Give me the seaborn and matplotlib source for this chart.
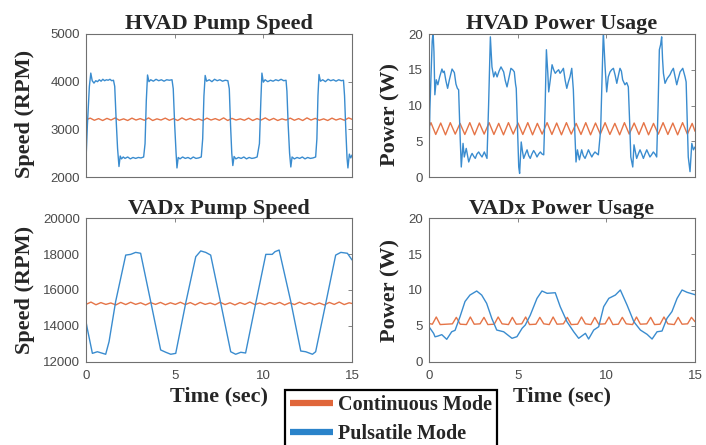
import matplotlib
matplotlib.use("Agg")
import matplotlib.pyplot as plt
from matplotlib.lines import Line2D
import seaborn as sns
import pandas as pd

# ---- data (time in sec) ----
modes = ["Continuous Mode", "Pulsatile Mode"]

# HVAD pump speed (RPM)
hvad_spd_puls_t = [
    0.00, 0.08, 0.19, 0.27, 0.35, 0.45, 0.55, 0.65, 0.75, 0.85,
    0.95, 1.05, 1.15, 1.25, 1.35, 1.45, 1.55, 1.62, 1.70, 1.78,
    1.86, 1.93, 2.00, 2.10, 2.20, 2.35, 2.50, 2.65, 2.80, 2.95,
    3.10, 3.25, 3.33, 3.40, 3.47, 3.55, 3.65, 3.80, 3.95, 4.10,
    4.25, 4.40, 4.55, 4.70, 4.85, 4.92, 5.00, 5.08, 5.13, 5.20,
    5.30, 5.45, 5.60, 5.75, 5.90, 6.05, 6.20, 6.35, 6.50, 6.58,
    6.65, 6.72, 6.80, 6.95, 7.10, 7.25, 7.40, 7.55, 7.70, 7.85,
    8.00, 8.08, 8.15, 8.22, 8.28, 8.35, 8.45, 8.60, 8.75, 8.90,
    9.05, 9.20, 9.35, 9.50, 9.65, 9.78, 9.86, 9.92, 10.00, 10.10,
    10.25, 10.40, 10.55, 10.70, 10.85, 11.00, 11.15, 11.28, 11.33, 11.40,
    11.48, 11.55, 11.62, 11.75, 11.90, 12.05, 12.20, 12.35, 12.50, 12.65,
    12.80, 12.95, 13.02, 13.08, 13.14, 13.22, 13.35, 13.50, 13.65, 13.80,
    13.95, 14.10, 14.25, 14.40, 14.52, 14.58, 14.65, 14.72, 14.77, 14.85,
    14.93, 15.00]
hvad_spd_puls_v = [
    2360, 3100, 3900, 4180, 4020, 3970, 4020, 4000, 4040, 4010,
    4050, 4020, 4040, 4030, 4050, 4020, 4030, 3900, 3200, 2600,
    2220, 2440, 2380, 2420, 2390, 2420, 2380, 2410, 2390, 2410,
    2400, 2420, 2700, 3600, 4140, 4000, 4040, 4010, 4050, 4020,
    4040, 4010, 4040, 4030, 4040, 3850, 3100, 2500, 2190, 2410,
    2380, 2420, 2390, 2410, 2380, 2420, 2390, 2400, 2420, 2800,
    3700, 4130, 4010, 4040, 4000, 4050, 4020, 4040, 4010, 4030,
    4020, 3850, 3100, 2500, 2240, 2430, 2380, 2410, 2390, 2420,
    2380, 2410, 2390, 2400, 2420, 2700, 3600, 4180, 3990, 4040,
    4000, 4030, 4010, 4040, 4020, 4050, 4020, 4030, 3800, 3100,
    2500, 2210, 2420, 2380, 2410, 2390, 2420, 2380, 2410, 2390,
    2400, 2420, 2800, 3700, 4150, 4010, 4040, 4000, 4050, 4020,
    4040, 4010, 4040, 4020, 4030, 3700, 3000, 2400, 2190, 2480,
    2400, 2460]
hvad_spd_cont_t = [
    0.00, 0.24, 0.47, 0.71, 0.94, 1.18, 1.41, 1.65, 1.88, 2.12,
    2.35, 2.59, 2.82, 3.06, 3.29, 3.53, 3.76, 4.00, 4.23, 4.47,
    4.70, 4.94, 5.17, 5.41, 5.64, 5.88, 6.11, 6.35, 6.58, 6.82,
    7.05, 7.29, 7.52, 7.76, 7.99, 8.23, 8.46, 8.70, 8.93, 9.17,
    9.40, 9.64, 9.87, 10.11, 10.34, 10.58, 10.81, 11.05, 11.28, 11.52,
    11.75, 11.99, 12.22, 12.46, 12.69, 12.93, 13.16, 13.40, 13.63, 13.87,
    14.10, 14.34, 14.57, 14.81, 15.00]
hvad_spd_cont_v = [
    3200, 3235, 3190, 3225, 3185, 3230, 3195, 3240, 3190, 3220,
    3185, 3235, 3195, 3225, 3190, 3240, 3185, 3220, 3195, 3235,
    3190, 3225, 3185, 3240, 3195, 3230, 3190, 3220, 3185, 3235,
    3195, 3225, 3190, 3240, 3185, 3230, 3195, 3220, 3190, 3235,
    3185, 3225, 3195, 3240, 3190, 3230, 3185, 3220, 3195, 3235,
    3190, 3225, 3185, 3240, 3195, 3230, 3190, 3220, 3185, 3235,
    3195, 3225, 3190, 3240, 3210]

# HVAD power usage (W)
hvad_pow_puls_t = [
    0.00, 0.05, 0.11, 0.18, 0.23, 0.28, 0.33, 0.41, 0.50, 0.60,
    0.73, 0.80, 0.86, 0.95, 1.05, 1.15, 1.30, 1.43, 1.52, 1.60,
    1.67, 1.75, 1.82, 1.92, 1.99, 2.10, 2.24, 2.35, 2.43, 2.52,
    2.61, 2.70, 2.80, 2.90, 2.99, 3.12, 3.20, 3.27, 3.36, 3.46,
    3.55, 3.65, 3.74, 3.84, 3.95, 4.06, 4.21, 4.30, 4.40, 4.50,
    4.62, 4.72, 4.81, 4.88, 4.92, 5.00, 5.06, 5.11, 5.20, 5.27,
    5.34, 5.43, 5.53, 5.62, 5.71, 5.80, 5.90, 6.00, 6.09, 6.18,
    6.28, 6.38, 6.47, 6.55, 6.62, 6.70, 6.75, 6.84, 6.94, 7.03,
    7.12, 7.22, 7.31, 7.39, 7.48, 7.58, 7.68, 7.77, 7.86, 7.95,
    8.05, 8.14, 8.22, 8.29, 8.37, 8.48, 8.61, 8.70, 8.80, 8.90,
    8.99, 9.08, 9.18, 9.27, 9.36, 9.45, 9.55, 9.68, 9.76, 9.83,
    9.93, 10.02, 10.11, 10.21, 10.30, 10.40, 10.50, 10.59, 10.68, 10.77,
    10.85, 10.92, 11.05, 11.15, 11.24, 11.31, 11.38, 11.49, 11.56, 11.64,
    11.71, 11.80, 11.90, 12.00, 12.09, 12.18, 12.28, 12.37, 12.46, 12.55,
    12.65, 12.75, 12.84, 12.92, 12.99, 13.06, 13.12, 13.17, 13.22, 13.31,
    13.44, 13.59, 13.68, 13.78, 13.88, 13.97, 14.06, 14.16, 14.31, 14.44,
    14.50, 14.56, 14.62, 14.72, 14.82, 14.91, 15.00]
hvad_pow_puls_v = [
    2.8, 9.5, 14.0, 19.0, 20.3, 17.5, 11.5, 13.6, 12.9, 14.0,
    15.1, 14.6, 14.8, 13.5, 12.4, 13.6, 15.1, 14.6, 13.0, 12.4,
    12.2, 6.0, 1.4, 4.7, 2.8, 4.0, 2.1, 2.9, 3.3, 2.9,
    2.6, 3.2, 3.5, 3.1, 2.8, 3.5, 3.0, 2.6, 10.0, 19.6,
    15.4, 14.0, 14.7, 14.0, 14.8, 15.4, 14.7, 13.5, 12.6, 13.8,
    15.2, 15.0, 14.7, 13.0, 12.4, 6.0, 1.4, 0.5, 4.9, 3.6,
    2.6, 3.2, 3.8, 3.0, 2.6, 3.2, 3.7, 3.3, 2.8, 3.2,
    3.5, 3.2, 3.1, 10.0, 17.8, 14.5, 11.9, 13.6, 15.7, 15.0,
    14.5, 14.8, 15.0, 14.5, 14.8, 15.2, 13.5, 12.4, 13.3, 14.0,
    15.2, 12.2, 6.5, 2.1, 3.8, 2.4, 3.8, 3.0, 2.6, 3.2,
    3.8, 3.3, 2.8, 3.2, 3.5, 3.3, 3.1, 6.6, 14.0, 20.3,
    15.4, 11.9, 14.0, 14.7, 15.0, 15.2, 14.2, 13.1, 14.2, 15.2,
    14.8, 13.6, 12.9, 13.2, 12.6, 8.0, 2.8, 1.4, 4.5, 3.5,
    2.6, 3.2, 3.8, 3.2, 2.6, 3.2, 3.8, 3.3, 2.8, 3.1,
    3.5, 3.2, 2.8, 10.0, 17.8, 18.5, 19.6, 16.5, 14.5, 13.1,
    13.8, 14.3, 14.8, 15.2, 14.0, 12.9, 13.8, 14.7, 15.2, 14.0,
    13.3, 8.0, 2.8, 0.75, 4.7, 3.8, 4.2]
hvad_pow_cont_t = [
    0.00, 0.11, 0.38, 0.66, 0.93, 1.20, 1.48, 1.75, 2.02, 2.30,
    2.57, 2.84, 3.11, 3.39, 3.66, 3.93, 4.20, 4.48, 4.75, 5.02,
    5.29, 5.57, 5.84, 6.11, 6.38, 6.66, 6.93, 7.20, 7.47, 7.75,
    8.02, 8.30, 8.57, 8.84, 9.11, 9.39, 9.66, 9.93, 10.20, 10.48,
    10.75, 11.02, 11.29, 11.57, 11.84, 12.11, 12.38, 12.66, 12.93, 13.20,
    13.47, 13.75, 14.02, 14.30, 14.57, 14.84, 15.00]
hvad_pow_cont_v = [
    7.0, 7.6, 5.95, 7.55, 5.9, 7.6, 6.0, 7.5, 5.95, 7.6,
    5.9, 7.55, 6.0, 7.6, 5.95, 7.5, 5.9, 7.6, 6.0, 7.55,
    5.95, 7.6, 5.9, 7.5, 6.0, 7.6, 5.95, 7.55, 5.9, 7.6,
    6.0, 7.5, 5.95, 7.6, 5.9, 7.55, 6.0, 7.6, 5.95, 7.5,
    5.9, 7.6, 6.0, 7.55, 5.95, 7.6, 5.9, 7.5, 6.0, 7.6,
    5.95, 7.55, 5.9, 7.6, 6.0, 7.5, 6.4]

# VADx pump speed (RPM)
vadx_spd_puls_t = [
    0.00, 0.07, 0.36, 0.64, 1.11, 1.30, 1.67, 2.24, 2.52, 2.80,
    3.08, 3.65, 4.21, 4.50, 4.78, 5.06, 5.62, 6.19, 6.47, 6.75,
    7.03, 7.60, 8.16, 8.44, 8.73, 9.00, 9.57, 10.14, 10.50, 10.66,
    10.89, 11.55, 12.11, 12.39, 12.77, 12.95, 13.52, 14.08, 14.37, 14.74,
    15.00]
vadx_spd_puls_v = [
    14240, 13870, 12480, 12570, 12430, 13130, 15350, 17940, 17980, 18090,
    18040, 15350, 12670, 12540, 12430, 12480, 15260, 17850, 18170, 18090,
    17940, 15260, 12570, 12430, 12540, 12500, 15260, 17980, 17980, 18130,
    18220, 15350, 12610, 12570, 12430, 12570, 15260, 17940, 18090, 18040,
    17670]
vadx_spd_cont_t = [
    0.00, 0.28, 0.56, 0.84, 1.12, 1.40, 1.68, 1.96, 2.24, 2.52,
    2.80, 3.08, 3.36, 3.64, 3.92, 4.20, 4.48, 4.76, 5.04, 5.32,
    5.60, 5.88, 6.16, 6.44, 6.72, 7.00, 7.28, 7.56, 7.84, 8.12,
    8.40, 8.68, 8.96, 9.24, 9.52, 9.80, 10.08, 10.36, 10.64, 10.92,
    11.20, 11.48, 11.76, 12.04, 12.32, 12.60, 12.88, 13.16, 13.44, 13.72,
    14.00, 14.28, 14.56, 14.84, 15.00]
vadx_spd_cont_v = [
    15200, 15330, 15180, 15300, 15200, 15280, 15170, 15310, 15190, 15320,
    15200, 15290, 15170, 15300, 15200, 15310, 15180, 15290, 15200, 15320,
    15190, 15300, 15170, 15310, 15200, 15280, 15180, 15320, 15190, 15290,
    15170, 15300, 15200, 15330, 15190, 15280, 15180, 15300, 15200, 15310,
    15170, 15290, 15190, 15320, 15200, 15300, 15180, 15280, 15170, 15310,
    15200, 15330, 15190, 15290, 15250]

# VADx power usage (W)
vadx_pow_puls_t = [
    0.00, 0.26, 0.34, 0.50, 0.72, 1.00, 1.28, 1.47, 1.75, 2.03,
    2.31, 2.69, 2.97, 3.25, 3.54, 3.82, 4.21, 4.68, 4.96, 5.25,
    5.43, 5.71, 6.09, 6.37, 6.66, 7.12, 7.40, 7.78, 8.16, 8.44,
    8.82, 9.00, 9.29, 9.57, 9.85, 10.14, 10.51, 10.79, 11.17, 11.55,
    11.92, 12.30, 12.58, 12.86, 13.14, 13.42, 13.70, 13.99, 14.27, 14.55,
    14.93, 15.00]
vadx_pow_puls_v = [
    4.9, 3.98, 3.5, 3.6, 3.8, 3.15, 4.2, 4.4, 6.3, 8.4,
    9.3, 9.86, 9.3, 8.15, 6.06, 4.44, 4.2, 3.29, 3.52, 4.68,
    5.14, 6.5, 8.84, 9.86, 9.54, 9.62, 7.68, 5.6, 4.2, 3.29,
    3.98, 3.19, 4.44, 4.9, 7.68, 8.84, 9.3, 10.0, 7.9, 5.6,
    4.44, 3.84, 3.19, 4.2, 4.3, 6.07, 7.0, 8.84, 10.0, 9.68,
    9.4, 9.35]
vadx_pow_cont_t = [
    0.00, 0.19, 0.41, 0.63, 1.32, 1.54, 1.76, 2.11, 2.33, 2.55,
    2.88, 3.10, 3.32, 3.68, 3.90, 4.12, 4.48, 4.70, 4.92, 5.23,
    5.45, 5.67, 6.03, 6.25, 6.47, 6.78, 7.00, 7.22, 7.58, 7.80,
    8.02, 8.38, 8.60, 8.82, 9.13, 9.35, 9.57, 9.93, 10.15, 10.37,
    10.68, 10.90, 11.12, 11.48, 11.70, 11.92, 12.28, 12.50, 12.72, 13.03,
    13.25, 13.47, 13.83, 14.05, 14.27, 14.58, 14.80, 15.00]
vadx_pow_cont_v = [
    5.35, 5.25, 6.25, 5.2, 5.3, 6.2, 5.25, 5.2, 6.25, 5.25,
    5.3, 6.2, 5.2, 5.25, 6.25, 5.3, 5.2, 6.2, 5.25, 5.3,
    6.25, 5.2, 5.25, 6.2, 5.3, 5.2, 6.25, 5.25, 5.3, 6.2,
    5.2, 5.25, 6.25, 5.3, 5.2, 6.2, 5.25, 5.3, 6.25, 5.2,
    5.25, 6.2, 5.3, 5.2, 6.25, 5.25, 5.3, 6.2, 5.2, 5.25,
    6.25, 5.3, 5.2, 6.2, 5.25, 5.3, 6.2, 5.6]

titles = ["HVAD Pump Speed", "HVAD Power Usage", "VADx Pump Speed", "VADx Power Usage"]
ylabels = ["Speed (RPM)", "Power (W)", "Speed (RPM)", "Power (W)"]
ylims = [(2000, 5000), (0, 20), (12000, 20000), (0, 20)]
yticks = [[2000, 3000, 4000, 5000], [0, 5, 10, 15, 20],
          [12000, 14000, 16000, 18000, 20000], [0, 5, 10, 15, 20]]
xticks = [0, 5, 10, 15]

series = [
    (hvad_spd_cont_t, hvad_spd_cont_v, hvad_spd_puls_t, hvad_spd_puls_v),
    (hvad_pow_cont_t, hvad_pow_cont_v, hvad_pow_puls_t, hvad_pow_puls_v),
    (vadx_spd_cont_t, vadx_spd_cont_v, vadx_spd_puls_t, vadx_spd_puls_v),
    (vadx_pow_cont_t, vadx_pow_cont_v, vadx_pow_puls_t, vadx_pow_puls_v),
]

# ---- style ----
sns.set_style("white")
plt.rcParams["font.family"] = ["Liberation Sans", "DejaVu Sans"]
line_colors = {"Continuous Mode": "#e57447", "Pulsatile Mode": "#3a8ccf"}
legend_colors = ["#e0663a", "#2a83ca"]
serif = dict(family="Liberation Serif", weight="bold", size=16)
spine_col = "#707070"

fig = plt.figure(figsize=(7.06, 4.45), dpi=100)
W, H = 706.0, 445.0
boxes = [(86, 34, 352, 177), (429, 34, 695, 177), (86, 218, 352, 362), (429, 218, 695, 362)]

for i, (x0, y0, x1, y1) in enumerate(boxes):
    ax = fig.add_axes([x0 / W, 1 - y1 / H, (x1 - x0) / W, (y1 - y0) / H])
    ct, cv, pt, pv = series[i]
    df = pd.concat([
        pd.DataFrame({"t": ct, "v": cv, "mode": modes[0]}),
        pd.DataFrame({"t": pt, "v": pv, "mode": modes[1]}),
    ], ignore_index=True)
    sns.lineplot(data=df, x="t", y="v", hue="mode", hue_order=modes,
                 palette=line_colors, estimator=None, linewidth=1.0,
                 legend=False, ax=ax)
    ax.set_xlim(0, 15)
    ax.set_ylim(*ylims[i])
    ax.set_xticks(xticks)
    ax.set_yticks(yticks[i])
    ax.tick_params(direction="in", length=3, width=0.6, color=spine_col,
                   top=True, right=True, labelsize=9.5, labelcolor="#4a4a4a")
    ax.tick_params(axis="x", pad=5.5)
    ax.tick_params(axis="y", pad=4.5)
    for s in ax.spines.values():
        s.set_color(spine_col)
        s.set_linewidth(0.8)
    ax.set_title(titles[i], fontdict=serif, pad=3)
    ax.set_ylabel(ylabels[i], fontdict=serif)
    lx = (35 - x0) / (x1 - x0) if i % 2 == 0 else (400 - x0) / (x1 - x0)
    ax.yaxis.set_label_coords(lx, 0.44 if i < 2 else 0.5)
    if i < 2:
        ax.set_xticklabels([])
        ax.set_xlabel("")
    else:
        ax.set_xlabel("Time (sec)", fontdict=serif)
        ax.xaxis.set_label_coords(0.5, -0.17)
        ax.xaxis.label.set_va("top")

handles = [Line2D([], [], color=c, linewidth=4.5, solid_capstyle="butt") for c in legend_colors]
leg = fig.legend(handles, modes, loc="upper left",
                 bbox_to_anchor=(285 / W, 1 - 390 / H), borderaxespad=0,
                 prop=dict(family="Liberation Serif", weight="bold", size=14.5),
                 frameon=True, fancybox=False, handlelength=2.15,
                 handletextpad=0.25, borderpad=0.25, labelspacing=0.45)
leg.get_frame().set_edgecolor("black")
leg.get_frame().set_linewidth(1.6)
leg.get_frame().set_alpha(1)

fig.savefig("out.png", dpi=100)
